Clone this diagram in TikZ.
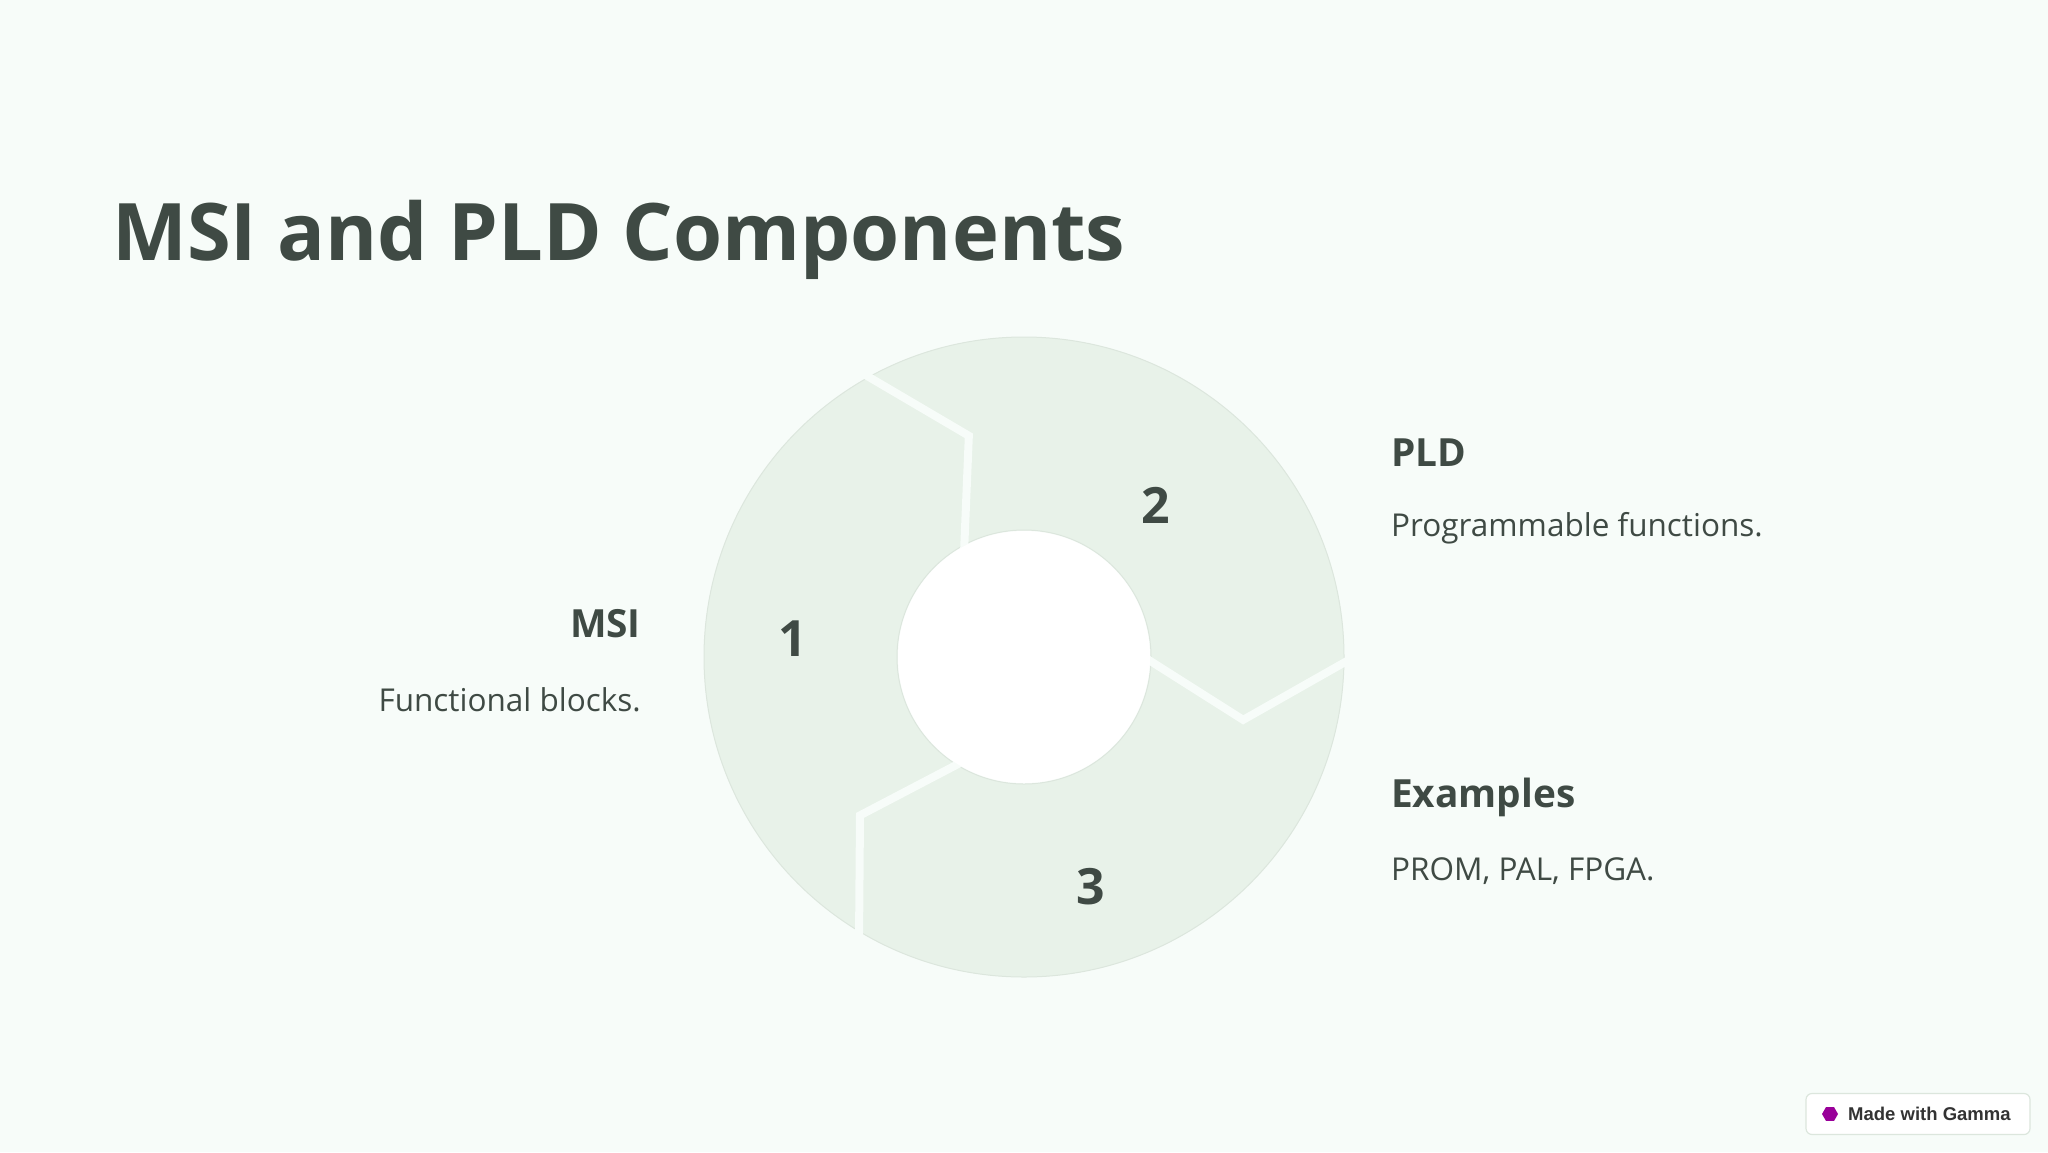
\documentclass[tikz,border=0pt]{standalone}
\usepackage{fontspec}
\setmainfont{Open Sans}
\setsansfont{Liberation Sans}
\usetikzlibrary{shapes.geometric}
\begin{document}
\begin{tikzpicture}[x=1pt,y=1pt,
  txt/.style={text=textc,inner sep=0pt},
  head/.style={txt,font=\fontsize{38.8}{46}\selectfont\bfseries},
  body/.style={txt,font=\fontsize{31.5}{38}\selectfont},
  num/.style={txt,font=\fontsize{50}{60}\selectfont\bfseries},
  cut/.style={draw=bgc,line width=8pt,line join=miter}]
\definecolor{bgc}{HTML}{F7FCF9}
\definecolor{ringc}{HTML}{E8F2E9}
\definecolor{ringb}{HTML}{DCE6DD}
\definecolor{textc}{HTML}{3F4A44}
\fill[bgc] (0,0) rectangle (2048,-1152);
\useasboundingbox (0,0) rectangle (2048,-1152);
\coordinate (c) at (1024,-657);
% ring
\fill[ringc,draw=ringb,line width=1pt,even odd rule] (c) circle[radius=320] (c) circle[radius=127];
% cuts
\draw[cut] ([shift={(120:330)}]c) -- ([shift={(104:228)}]c) -- ([shift={(120:120)}]c);
\draw[cut] ([shift={(0:330)}]c) -- ([shift={(-16:228)}]c) -- ([shift={(0:120)}]c);
\draw[cut] ([shift={(240:330)}]c) -- ([shift={(224:228)}]c) -- ([shift={(240:120)}]c);
\fill[white] (c) circle[radius=126];
% numbers
\node[num] (n1) at (793,-639) {1};
\node[num] (n2) at (1156,-505) {2};
\node[num] (n3) at (1091,-887) {3};
% title
\node[txt,anchor=west,font=\fontsize{79.4}{96}\selectfont\bfseries] (title) at (112,-240) {MSI and PLD Components};
% left texts
\node[head,anchor=east] (msi) at (641,-624) {MSI};
\node[body,anchor=east] (msib) at (641,-700) {Functional blocks.};
% right texts
\node[head,anchor=west] (pld) at (1391,-453) {PLD};
\node[body,anchor=west] (pldb) at (1391,-528) {Programmable functions.};
\node[head,anchor=west] (ex) at (1391,-797) {Examples};
\node[body,anchor=west] (exb) at (1391,-871) {PROM, PAL, FPGA.};
% badge
\node[draw=ringb,fill=white,rounded corners=6pt,minimum width=224pt,minimum height=41pt,line width=1.2pt] (badge) at (1918,-1114) {};
\node[inner sep=0pt,text=black!80,font=\sffamily\bfseries\fontsize{18.5}{22}\selectfont,anchor=west] (badget) at (1848,-1114) {Made with Gamma};
\node[regular polygon,regular polygon sides=6,fill=violet!80!magenta,minimum size=16pt,inner sep=0pt] (logo) at (1830,-1114) {};
\end{tikzpicture}
\end{document}
